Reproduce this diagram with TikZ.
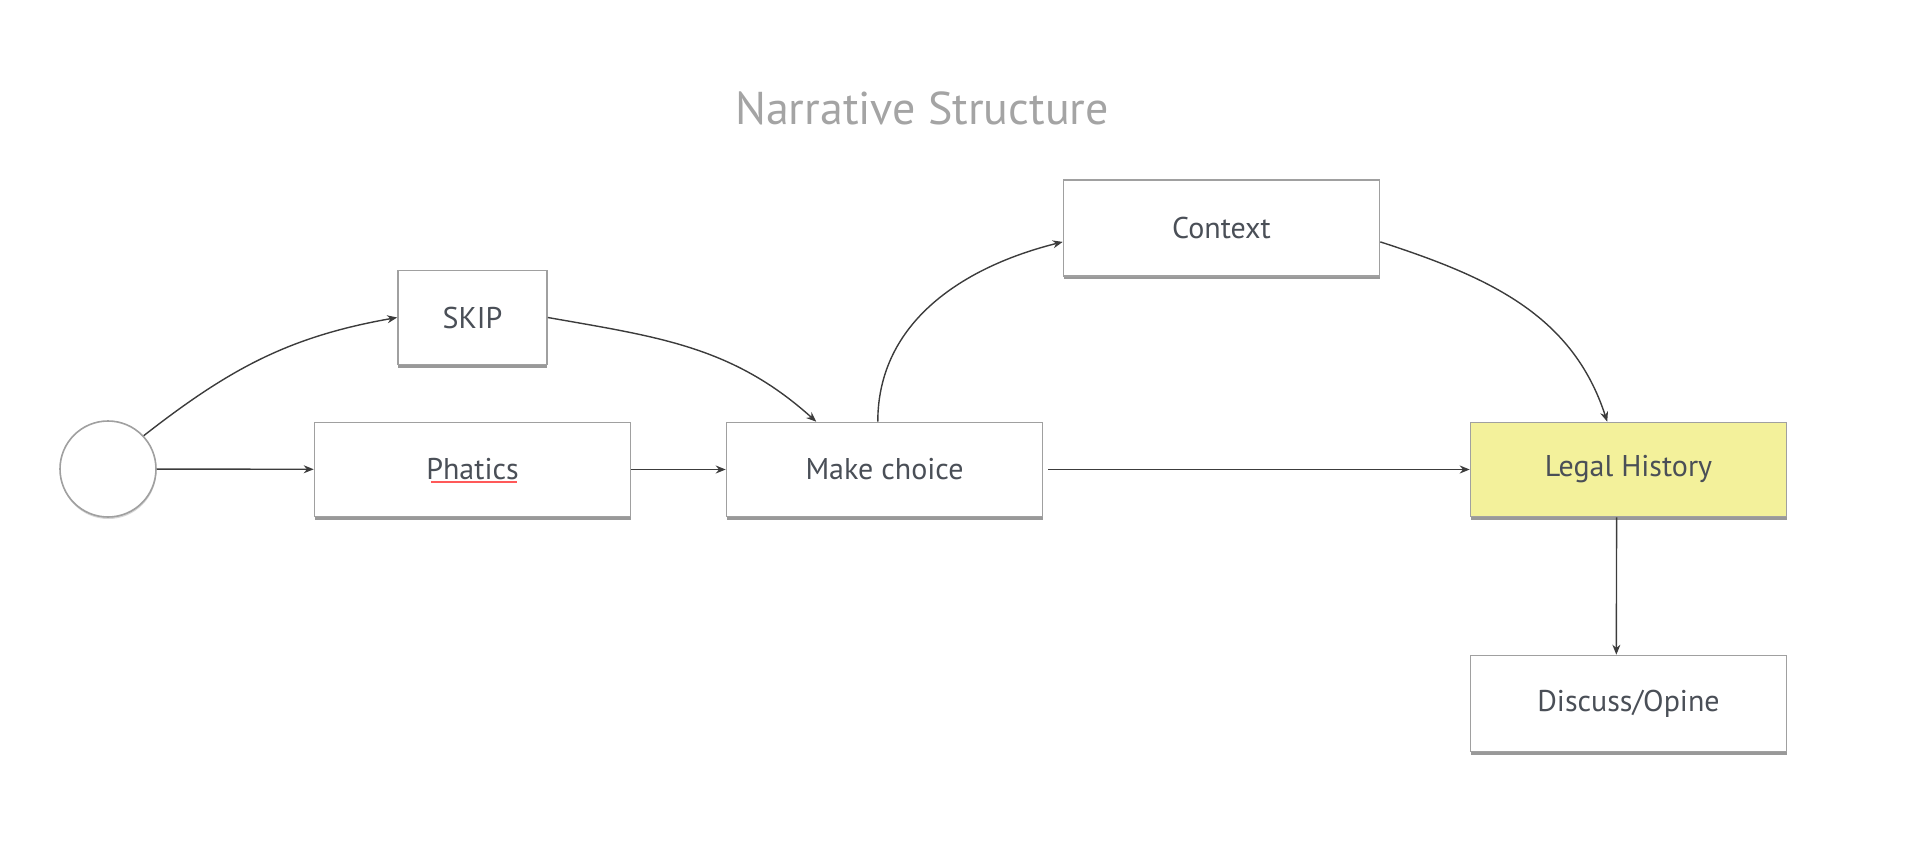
\documentclass[tikz,border=0pt]{standalone}
\usepackage{fontspec}
\setmainfont{PT Sans}
\usetikzlibrary{arrows.meta,shadows}
\definecolor{boxline}{HTML}{A0A0A0}
\definecolor{boxtext}{HTML}{4A4F57}
\definecolor{titlegray}{HTML}{A4A4A4}
\definecolor{legalfill}{HTML}{F3F19B}
\definecolor{flowline}{HTML}{3C3C3C}
\begin{document}
\begin{tikzpicture}[x=0.5pt, y=0.5pt,
		stepbox/.style={draw=boxline, line width=0.8pt, fill=white, text=boxtext,
			minimum width=158pt, minimum height=47pt, inner sep=0pt,
			font=\fontsize{15}{18}\selectfont,
			drop shadow={shadow xshift=0.2pt, shadow yshift=-1.5pt, opacity=0.8, fill=black!50}},
		flow/.style={draw=flowline, line width=0.7pt, -{Stealth[length=5pt, width=4pt]}}]
	\useasboundingbox (0, 0) rectangle (1910, -850);

	\node (title) at (922, -108) [text=titlegray, font=\fontsize{23}{27}\selectfont] {Narrative Structure};

	\node (start) at (108, -469) [circle, draw=boxline, line width=0.8pt, fill=white, minimum size=48pt, inner sep=0pt,
		drop shadow={shadow xshift=0.2pt, shadow yshift=-1pt, opacity=0.4, fill=black!40}] {};

	\node (skip) at (472.5, -317.5) [stepbox, minimum width=74.5pt] {SKIP};
	\node (phatics) at (472.5, -469.5) [stepbox] {Phatics};
	\node (choice) at (884.5, -469.5) [stepbox] {Make choice};
	\node (context) at (1221.5, -228) [stepbox, minimum height=48pt] {Context};
	\node (legal) at (1628.5, -469.5) [stepbox, fill=legalfill] {Legal History};
	\node (discuss) at (1628.5, -703.5) [stepbox, minimum height=48pt] {Discuss/Opine};

	% spell-check mark under Phatics
	\draw[red!65, line width=0.6pt] (431, -482) -- (517, -482);

	\draw[flow] (start) -- (phatics);
	\draw[flow] (phatics) -- (choice);
	\draw[flow] ([xshift=2.5pt]choice.east) -- (legal);
	\draw[flow] (legal.-104) -- (discuss.104);

	\draw[flow] (start.43) to[out=38, in=190] (skip.west);
	\draw[flow] (skip.east) to[out=-10, in=138] (choice.145);
	\draw[flow] (choice.98) to[out=90, in=194] (context.185);
	\draw[flow] (context.-5) to[out=-18, in=108] (legal.114);
\end{tikzpicture}
\end{document}
